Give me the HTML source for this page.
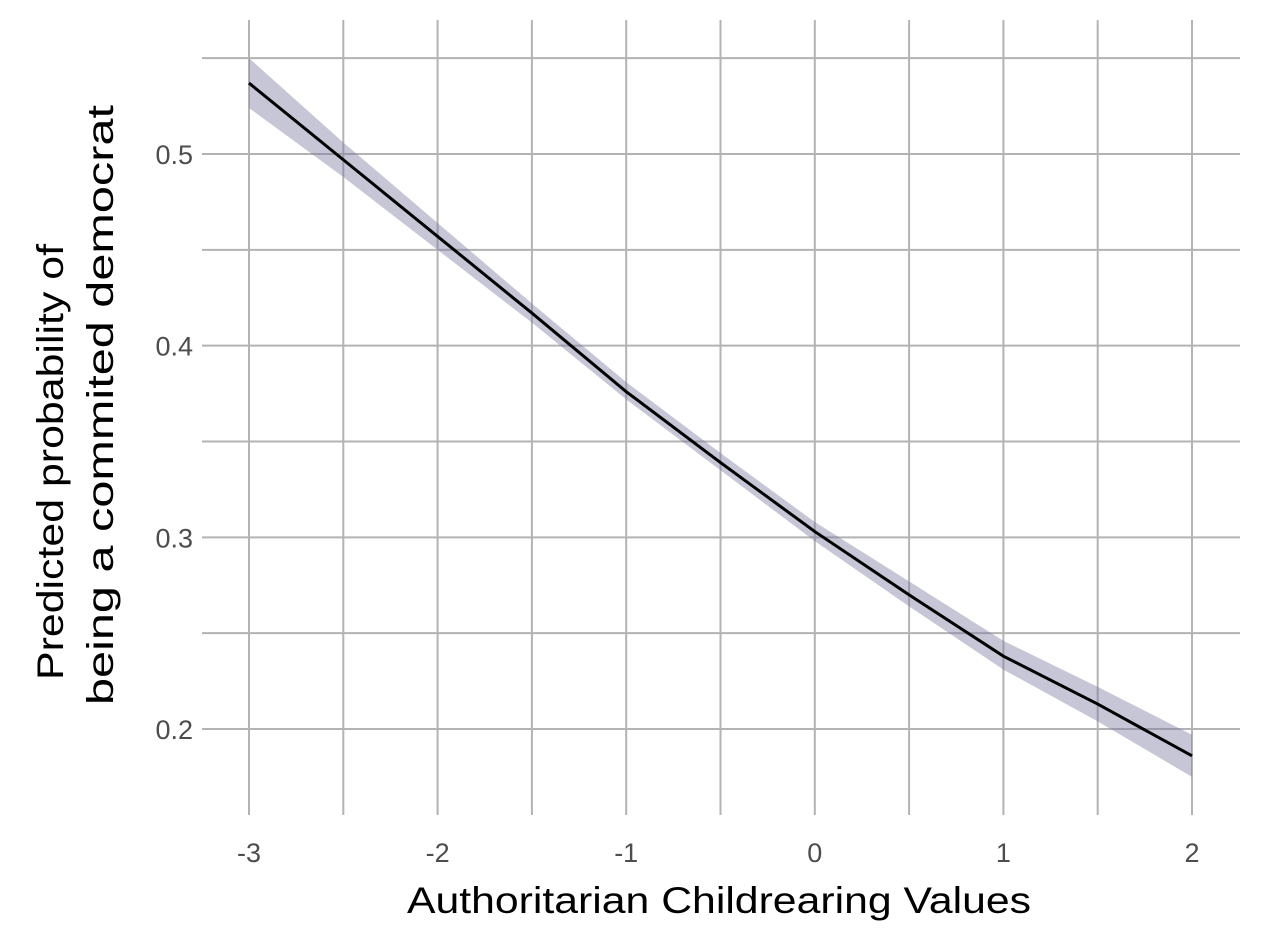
<!DOCTYPE html>
<html><head><meta charset="utf-8"><style>
body{margin:0;background:#fff;}
svg text{font-family:"Liberation Sans",sans-serif;}
</style></head><body>
<svg id="chart" width="1262" height="944" xmlns="http://www.w3.org/2000/svg">
<g id="grid"></g>
<g id="band"></g>
<g id="line"></g>
<g id="ticks"></g>
<text x="407" y="913" font-size="37" textLength="624" lengthAdjust="spacingAndGlyphs" fill="#000">Authoritarian Childrearing Values</text>
<text transform="translate(63,680) rotate(-90)" font-size="37" textLength="436" lengthAdjust="spacingAndGlyphs" fill="#000">Predicted probability of</text>
<text transform="translate(113,705) rotate(-90)" font-size="37" textLength="600" lengthAdjust="spacingAndGlyphs" fill="#000">being a commited democrat</text>
</svg>
<script>
const xs=[-3,-2.5,-2,-1.5,-1,-0.5,0,0.5,1,1.5,2];
const fit=[0.537,0.497,0.457,0.417,0.376,0.339,0.303,0.270,0.238,0.213,0.186];
const lower=[0.524,0.488,0.450,0.412,0.372,0.335,0.298,0.264,0.231,0.204,0.175];
const upper=[0.550,0.506,0.464,0.422,0.381,0.344,0.308,0.277,0.246,0.222,0.197];
const xTicks=[-3,-2,-1,0,1,2];
const yTicks=[0.2,0.3,0.4,0.5];
const NS="http://www.w3.org/2000/svg";
const X=v=>249+(v+3)*188.6;
const Y=v=>729-(v-0.2)*1916.7;
function mk(tag,attrs,parent){const e=document.createElementNS(NS,tag);for(const k in attrs)e.setAttribute(k,attrs[k]);document.getElementById(parent).appendChild(e);return e;}
const gc="#b3b3b3";
for(let v=-3;v<=2.001;v+=0.5){const l=mk('line',{x1:X(v),x2:X(v),y1:20,y2:815,stroke:gc,'stroke-width':2},'grid');

}
for(let v=0.2;v<=0.551;v+=0.05){const l=mk('line',{x1:202,x2:1240,y1:Y(v),y2:Y(v),stroke:gc,'stroke-width':2},'grid');

}
let pts=xs.map((x,i)=>X(x)+','+Y(upper[i]));
for(let i=xs.length-1;i>=0;i--)pts.push(X(xs[i])+','+Y(lower[i]));
const b=mk('polygon',{points:pts.join(' '),fill:'rgba(120,120,160,0.42)'},'band');


const p=mk('polyline',{points:xs.map((x,i)=>X(x)+','+Y(fit[i])).join(' '),fill:'none',stroke:'#000','stroke-width':3},'line');


xTicks.forEach(v=>{const t=mk('text',{x:X(v),y:862,'text-anchor':'middle','font-size':27,fill:'#4d4d4d'},'ticks');t.textContent=String(v);

});
yTicks.forEach(v=>{const t=mk('text',{x:193,y:Y(v)+10,'text-anchor':'end','font-size':27,fill:'#4d4d4d'},'ticks');t.textContent=v.toFixed(1);

});
</script>
</body></html>
